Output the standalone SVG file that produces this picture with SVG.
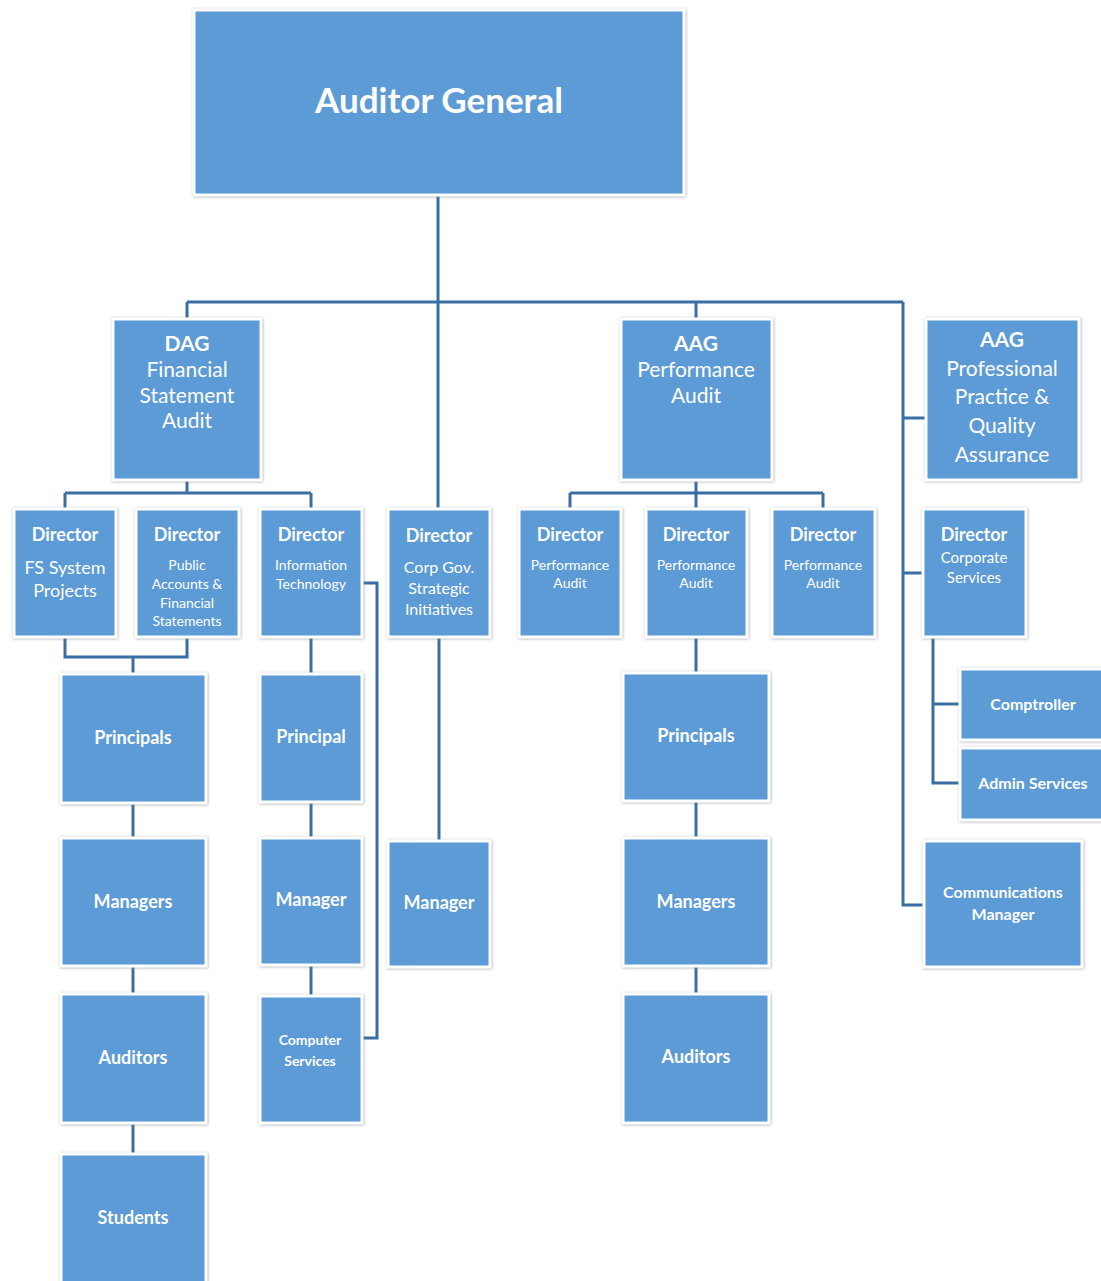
<svg xmlns="http://www.w3.org/2000/svg" width="1101" height="1281" viewBox="0 0 1101 1281">
<defs>
<filter id="sh" x="-10%" y="-10%" width="120%" height="120%">
<feDropShadow dx="0.5" dy="0.5" stdDeviation="1.2" flood-color="#7f7f7f" flood-opacity="0.7"/>
</filter>
<style>
.box{fill:#5b9bd5;stroke:#ffffff;stroke-width:3;filter:url(#sh)}
.con{fill:none;stroke:#3a6ea5;stroke-width:3}
text{fill:#ffffff;font-family:Lato,"Open Sans","Liberation Sans",sans-serif;text-anchor:middle}
.b{font-weight:bold}
</style>
</defs>
<rect width="1101" height="1281" fill="#ffffff"/>
<g id="connectors">
<path class="con" d="M438,195 V508 M187,302 H903 M187,302 V318 M696,302 V318 M903,302 V905 H923 M903,418 H925 M903,573 H922"/>
<path class="con" d="M187,481 V493 M65,493 H311 M65,493 V508 M311,493 V508"/>
<path class="con" d="M696,481 V493 M570,493 H823 M570,493 V508 M823,493 V508 M696,493 V508"/>
<path class="con" d="M65,638 V657 H187 V638 M133,657 V673 M133,804 V837 M133,967 V993 M133,1124 V1153"/>
<path class="con" d="M311,638 V673 M311,803 V837 M311,966 V995 M363,583 H377 V1038 H363"/>
<path class="con" d="M439,638 V840"/>
<path class="con" d="M696,638 V672 M696,802 V837 M696,967 V993"/>
<path class="con" d="M933,638 V783 H959 M933,704 H959"/>
</g>
<g id="auditor-general"><rect class="box" x="194" y="10" width="490" height="185"/><text class="b" x="439" y="113" font-size="35">Auditor General</text></g>
<g id="dag"><rect class="box" x="113" y="319" width="148" height="161"/>
<text class="b" x="187" y="351" font-size="21">DAG</text><text x="187" y="377" font-size="21">Financial</text><text x="187" y="403" font-size="21">Statement</text><text x="187" y="428" font-size="21">Audit</text></g>
<g id="aag-perf"><rect class="box" x="621" y="319" width="151" height="161"/>
<text class="b" x="696" y="351" font-size="21">AAG</text><text x="696" y="377" font-size="21">Performance</text><text x="696" y="403" font-size="21">Audit</text></g>
<g id="aag-ppqa"><rect class="box" x="926" y="319" width="153" height="161"/>
<text class="b" x="1002" y="347" font-size="21">AAG</text><text x="1002" y="376" font-size="21">Professional</text><text x="1002" y="404" font-size="21">Practice &amp;</text><text x="1002" y="433" font-size="21">Quality</text><text x="1002" y="462" font-size="21">Assurance</text></g>
<g id="dir-fs"><rect class="box" x="14" y="509" width="102" height="128"/>
<text class="b" x="65" y="541" font-size="18">Director</text><text x="65" y="574" font-size="18">FS System</text><text x="65" y="597" font-size="18">Projects</text></g>
<g id="dir-public"><rect class="box" x="136" y="509" width="103" height="128"/>
<text class="b" x="187" y="541" font-size="18">Director</text><text x="187" y="570" font-size="14">Public</text><text x="187" y="589" font-size="14">Accounts &amp;</text><text x="187" y="608" font-size="14">Financial</text><text x="187" y="626" font-size="14">Statements</text></g>
<g id="dir-it"><rect class="box" x="260" y="509" width="102" height="128"/>
<text class="b" x="311" y="541" font-size="18">Director</text><text x="311" y="570" font-size="14">Information</text><text x="311" y="589" font-size="14">Technology</text></g>
<g id="dir-corpgov"><rect class="box" x="388" y="509" width="102" height="128"/>
<text class="b" x="439" y="542" font-size="18">Director</text><text x="439" y="573" font-size="16">Corp Gov.</text><text x="439" y="594" font-size="16">Strategic</text><text x="439" y="615" font-size="16">Initiatives</text></g>
<g id="dir-perf1"><rect class="box" x="519" y="509" width="102" height="128"/>
<text class="b" x="570" y="541" font-size="18">Director</text><text x="570" y="570" font-size="14">Performance</text><text x="570" y="588" font-size="14">Audit</text></g>
<g id="dir-perf2"><rect class="box" x="646" y="509" width="101" height="128"/>
<text class="b" x="696" y="541" font-size="18">Director</text><text x="696" y="570" font-size="14">Performance</text><text x="696" y="588" font-size="14">Audit</text></g>
<g id="dir-perf3"><rect class="box" x="772" y="509" width="103" height="128"/>
<text class="b" x="823" y="541" font-size="18">Director</text><text x="823" y="570" font-size="14">Performance</text><text x="823" y="588" font-size="14">Audit</text></g>
<g id="dir-corpserv"><rect class="box" x="923" y="509" width="103" height="128"/>
<text class="b" x="974" y="541" font-size="18">Director</text><text x="974" y="563" font-size="15">Corporate</text><text x="974" y="583" font-size="15">Services</text></g>
<g id="fs-principals"><rect class="box" x="61" y="674" width="145" height="129"/><text class="b" x="133" y="744" font-size="18">Principals</text></g>
<g id="fs-managers"><rect class="box" x="61" y="838" width="145" height="128"/><text class="b" x="133" y="908" font-size="18">Managers</text></g>
<g id="fs-auditors"><rect class="box" x="61" y="994" width="145" height="129"/><text class="b" x="133" y="1064" font-size="18">Auditors</text></g>
<g id="fs-students"><rect class="box" x="61" y="1154" width="145" height="130"/><text class="b" x="133" y="1224" font-size="18">Students</text></g>
<g id="it-principal"><rect class="box" x="260" y="674" width="102" height="128"/><text class="b" x="311" y="743" font-size="18">Principal</text></g>
<g id="it-manager"><rect class="box" x="260" y="838" width="102" height="127"/><text class="b" x="311" y="906" font-size="18">Manager</text></g>
<g id="it-computer"><rect class="box" x="260" y="996" width="102" height="127"/><text class="b" x="310" y="1045" font-size="14">Computer</text><text class="b" x="310" y="1066" font-size="14">Services</text></g>
<g id="cg-manager"><rect class="box" x="388" y="841" width="102" height="126"/><text class="b" x="439" y="909" font-size="18">Manager</text></g>
<g id="pa-principals"><rect class="box" x="623" y="673" width="146" height="128"/><text class="b" x="696" y="742" font-size="18">Principals</text></g>
<g id="pa-managers"><rect class="box" x="623" y="838" width="146" height="128"/><text class="b" x="696" y="908" font-size="18">Managers</text></g>
<g id="pa-auditors"><rect class="box" x="623" y="994" width="146" height="129"/><text class="b" x="696" y="1063" font-size="18">Auditors</text></g>
<g id="comptroller"><rect class="box" x="960" y="669" width="145" height="71"/><text class="b" x="1033" y="710" font-size="16">Comptroller</text></g>
<g id="admin-services"><rect class="box" x="960" y="748" width="145" height="72"/><text class="b" x="1033" y="789" font-size="16">Admin Services</text></g>
<g id="communications"><rect class="box" x="924" y="841" width="158" height="126"/><text class="b" x="1003" y="898" font-size="16">Communications</text><text class="b" x="1003" y="920" font-size="16">Manager</text></g>
</svg>
